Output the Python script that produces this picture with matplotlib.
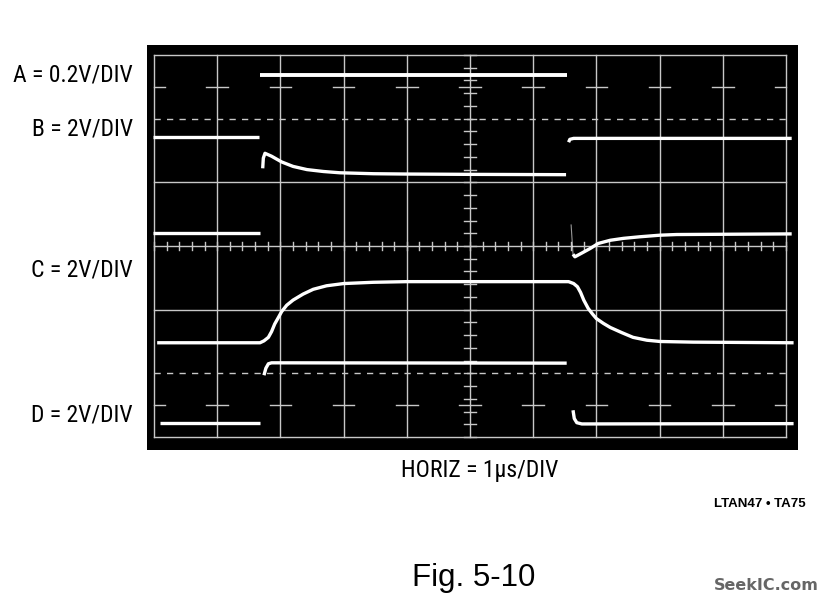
import numpy as np
import matplotlib
matplotlib.use("Agg")
import matplotlib.pyplot as plt

# ---- data (in graticule divisions) ----
a_x = [1.68, 6.53]
a_y = [5.69, 5.69]

b_left_x = [-0.02, 1.66]
b_left_y = [4.71, 4.71]
b_mid_x = [1.72, 1.73, 1.756, 1.86, 2.02, 2.20, 2.42, 2.68, 2.94, 3.47, 4.0, 5.0, 6.52]
b_mid_y = [4.22, 4.38, 4.456, 4.41, 4.32, 4.25, 4.20, 4.17, 4.15, 4.135, 4.13, 4.125, 4.12]
b_right_x = [6.56, 6.58, 6.64, 10.09]
b_right_y = [4.63, 4.675, 4.69, 4.69]

e_left_x = [-0.02, 1.68]
e_left_y = [3.20, 3.20]
e_edge_x = [6.60, 6.63]
e_edge_y = [3.33, 2.87]
e_right_x = [6.63, 6.66, 6.79, 6.90, 7.03, 7.22, 7.43, 7.69, 8.01, 8.27, 10.09]
e_right_y = [2.87, 2.83, 2.90, 2.96, 3.04, 3.09, 3.12, 3.145, 3.17, 3.18, 3.19]

c_x = [0.05, 1.677, 1.74, 1.81, 1.86, 1.91, 1.97, 2.02, 2.10, 2.20, 2.36, 2.52,
       2.73, 3.0, 3.47, 4.0, 6.56, 6.64, 6.70, 6.75, 6.80, 6.87, 6.94, 7.00,
       7.11, 7.22, 7.40, 7.58, 7.80, 8.01, 8.53, 10.12]
c_y = [1.48, 1.48, 1.51, 1.565, 1.655, 1.775, 1.88, 1.97, 2.07, 2.15, 2.245, 2.32,
       2.375, 2.41, 2.43, 2.44, 2.44, 2.41, 2.36, 2.27, 2.15, 2.02, 1.93, 1.86,
       1.785, 1.72, 1.64, 1.565, 1.52, 1.50, 1.49, 1.48]

d_left_x = [0.10, 1.68]
d_left_y = [0.22, 0.22]
d_high_x = [1.74, 1.77, 1.81, 1.86, 6.53]
d_high_y = [0.97, 1.08, 1.15, 1.165, 1.16]
d_right_x = [6.63, 6.65, 6.69, 6.77, 10.12]
d_right_y = [0.42, 0.29, 0.225, 0.205, 0.21]

channel_labels = ["A = 0.2V/DIV", "B = 2V/DIV", "C = 2V/DIV", "D = 2V/DIV"]
label_pix_y = [75, 129, 270, 415]

narrow = ["Roboto Condensed", "Archivo Narrow", "Liberation Sans", "DejaVu Sans"]

W, H = 832, 608
fig = plt.figure(figsize=(W / 100, H / 100), dpi=100)
fig.patch.set_facecolor("white")

# black screen region in pixels
L, R, T, B = 147, 798, 45, 450
ax = fig.add_axes([L / W, 1 - B / H, (R - L) / W, (B - T) / H])
ax.set_facecolor("black")
px_per_x = 63.2
px_per_y = 63.67
x0_pix, y0_pix = 154, 437
ax.set_xlim((L - x0_pix) / px_per_x, (R - x0_pix) / px_per_x)
ax.set_ylim((y0_pix - B) / px_per_y, (y0_pix - T) / px_per_y)
for s in ax.spines.values():
    s.set_visible(False)
ax.set_xticks([])
ax.set_yticks([])

gcol = "#c8c8c8"
glw = 1.0
# graticule
for xi in range(0, 11):
    ax.plot([xi, xi], [0, 6], color=gcol, lw=glw, zorder=1)
for yi in [0, 2, 3, 4, 6]:
    ax.plot([0, 10], [yi, yi], color=gcol, lw=glw, zorder=1)
for yi in [1, 5]:
    ax.plot([0, 10], [yi, yi], color=gcol, lw=glw, dashes=(4.5, 4.5), zorder=1)
# row tick marks at 0.5 and 5.5
for yi in [0.5, 5.5]:
    for xi in range(0, 11):
        ax.plot([max(0, xi - 0.17), min(10, xi + 0.17)], [yi, yi], color=gcol, lw=glw, zorder=1)
# minor ticks on center axes
for xt in np.arange(0, 10.01, 0.2):
    ax.plot([xt, xt], [2.93, 3.07], color=gcol, lw=glw, zorder=1)
for yt in np.arange(0, 6.01, 0.2):
    ax.plot([4.9, 5.1], [yt, yt], color=gcol, lw=glw, zorder=1)

# traces
tk = dict(color="white", lw=2.4, solid_capstyle="butt", solid_joinstyle="round", zorder=3)
ax.plot(a_x, a_y, **{**tk, "lw": 2.8})
ax.plot(b_left_x, b_left_y, **tk)
ax.plot(b_mid_x, b_mid_y, **tk)
ax.plot(b_right_x, b_right_y, **tk)
ax.plot(e_left_x, e_left_y, **tk)
ax.plot(e_edge_x, e_edge_y, color="white", lw=0.8, alpha=0.6, zorder=3)
ax.plot(e_right_x, e_right_y, **tk)
ax.plot(c_x, c_y, **tk)
ax.plot(d_left_x, d_left_y, **tk)
ax.plot(d_high_x, d_high_y, **tk)
ax.plot(d_right_x, d_right_y, **tk)

# text
for lab, py in zip(channel_labels, label_pix_y):
    fig.text(133 / W, 1 - py / H, lab, ha="right", va="center",
             family=narrow, fontsize=17, color="black")
fig.text(480 / W, 1 - 471 / H, "HORIZ = 1\u03bcs/DIV", ha="center", va="center",
         family=narrow, fontsize=17, color="black")
fig.text(760 / W, 1 - 504 / H, "LTAN47 \u2022 TA75", ha="center", va="center",
         family=["Liberation Sans", "DejaVu Sans"], fontsize=9.5, fontweight="bold", color="black")
fig.text(474 / W, 1 - 578 / H, "Fig. 5-10", ha="center", va="center",
         family=["Liberation Sans", "DejaVu Sans"], fontsize=22.5, color="black")
fig.text(766 / W, 1 - 586 / H, "SeekIC.com", ha="center", va="center",
         family=["DejaVu Sans"], fontsize=11.5, fontweight="bold", color="#666666")

fig.savefig("out.png", dpi=100, facecolor="white")
